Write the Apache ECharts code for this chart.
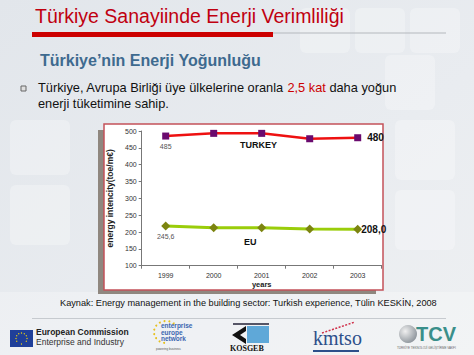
<!DOCTYPE html>
<html><head><meta charset="utf-8">
<script src="https://cdn.jsdelivr.net/npm/echarts@6/dist/echarts.min.js"></script>
<style>html,body{margin:0;padding:0;width:474px;height:355px;overflow:hidden;background:#e6eaee}#c{width:474px;height:355px}</style>
</head><body><div id="c"></div>
<script>
const years = ['1999','2000','2001','2002','2003'];
const turkey = [485, 493, 493, 477, 480];
const eu = [218, 213, 213, 209, 208];
const turkeyLabels = ['485', '', '', '', '480'];
const euLabels = ['245,6', '', '', '', '208,0'];
const yTicks = {min: 100, max: 500, interval: 50};

const F = 'Arial, "Liberation Sans", sans-serif';
function items(vals, labels, firstStyle, lastStyle){
  return vals.map((v,i)=>{
    const o = {value: v};
    if (labels[i]) {
      o.label = Object.assign({show:true, formatter: labels[i]}, i===0 ? firstStyle : lastStyle);
    }
    return o;
  });
}
const firstLab = {position:'bottom', distance:3, fontSize:7, color:'#555', fontFamily:F};
const lastLabT = {position:'right', distance:6, fontSize:10, fontWeight:'bold', color:'#111', fontFamily:F};
const lastLabE = {position:'right', distance:6, offset:[-7,0], fontSize:10, fontWeight:'bold', color:'#111', fontFamily:F};

const chart = echarts.init(document.getElementById('c'), null, {renderer:'svg'});
const g = [];
// background
g.push({type:'rect', z:-20, shape:{x:0,y:0,width:474,height:355}, style:{fill:{type:'linear',x:0,y:0,x2:1,y2:1,colorStops:[{offset:0,color:'#e2e6eb'},{offset:0.6,color:'#e9ecf0'},{offset:1,color:'#eef0f2'}]}}});
[[300,8,50,45],[355,8,50,45],[410,8,50,45],[385,55,50,55],[395,120,60,60],[395,190,60,60],[10,120,60,55],[10,185,60,60]].forEach(r=>{
  g.push({type:'rect', z:-19, shape:{x:r[0],y:r[1],width:r[2],height:r[3],r:6}, style:{fill:'rgba(255,255,255,0.28)'}});
});
g.push({type:'rect', z:-19, shape:{x:0,y:292,width:474,height:63}, style:{fill:'rgba(255,255,255,0.25)'}});
// title
g.push({type:'text', left:35, top:6, style:{text:'Türkiye Sanayiinde Enerji Verimliliği', font:'19.5px '+F, fill:'#c00010'}});
g.push({type:'rect', shape:{x:32,y:32,width:241,height:5}, style:{fill:'#cc0000'}});
g.push({type:'line', shape:{x1:273,y1:33,x2:446,y2:33}, style:{stroke:'#b4b8bd', lineWidth:1}});
g.push({type:'text', left:40, top:52, style:{text:'Türkiye’nin Enerji Yoğunluğu', font:'bold 16px '+F, fill:'#3e6a8f'}});
g.push({type:'rect', shape:{x:21,y:86,width:5,height:5}, style:{fill:'#e0e0e0', stroke:'#666', lineWidth:1}});
g.push({type:'text', left:38, top:80, style:{text:'{a|Türkiye, Avrupa Birliği üye ülkelerine oranla }{r|2,5 kat}{a| daha yoğun}\n{a|enerji tüketimine sahip.}', lineHeight:15.5,
  rich:{a:{font:'12.8px '+F, fill:'#111', lineHeight:15.5}, r:{font:'12.8px '+F, fill:'#cc0000', lineHeight:15.5}}}});
// frame
g.push({type:'rect', z:-5, shape:{x:98,y:130,width:278,height:164}, style:{fill:'#8f877f'}});
g.push({type:'rect', z:-4, shape:{x:104,y:124,width:279,height:166}, style:{fill:'#ffffff', stroke:'#c4525a', lineWidth:1.5}});
g.push({type:'text', left:240, top:140, z:10, style:{text:'TURKEY', font:'bold 9px '+F, fill:'#111'}});
g.push({type:'text', left:244, top:237, z:10, style:{text:'EU', font:'bold 9px '+F, fill:'#111'}});
// caption
g.push({type:'text', left:60, top:298, style:{text:'Kaynak: Energy management in the building sector: Turkish experience, Tülin KESKİN, 2008', font:'9.2px '+F, fill:'#111'}});
g.push({type:'line', shape:{x1:32,y1:318.5,x2:446,y2:318.5}, style:{stroke:'#c6cacf', lineWidth:1}});
// footer logos
g.push({type:'rect', shape:{x:10,y:330,width:23,height:17}, style:{fill:'#1f3f99'}});
for (let k=0;k<12;k++){ const a=k*Math.PI/6; g.push({type:'circle', shape:{cx:21.5+5.5*Math.cos(a), cy:338.5+5.5*Math.sin(a), r:0.6}, style:{fill:'#ffdd00'}}); }
g.push({type:'text', left:36, top:327, style:{text:'European Commission', font:'bold 8.5px '+F, fill:'#222'}});
g.push({type:'text', left:36, top:337, style:{text:'Enterprise and Industry', font:'8.5px '+F, fill:'#333'}});
for (let k=0;k<10;k++){ const a=Math.PI*0.55+k*Math.PI*0.13; g.push({type:'circle', shape:{cx:166+12*Math.cos(a), cy:332+11*Math.sin(a), r:1}, style:{fill:'#e6c020'}}); }
g.push({type:'text', left:161, top:322, style:{text:'enterprise\neurope\nnetwork', font:'bold 6.5px '+F, fill:'#3b66b0', lineHeight:6.5}});
g.push({type:'text', left:156, top:347, style:{text:'powering business', font:'3px '+F, fill:'#555'}});
g.push({type:'rect', shape:{x:233,y:323,width:36,height:2}, style:{fill:'#556'}});
g.push({type:'polygon', shape:{points:[[246,326],[232,335],[246,344],[246,339],[240,335],[246,331]]}, style:{fill:'#111'}});
g.push({type:'rect', shape:{x:247,y:326,width:22,height:17}, style:{fill:'#5fa8d8'}});
g.push({type:'text', left:230, top:344, style:{text:'KOSGEB', font:'bold 8px "Liberation Serif", serif', fill:'#111'}});
g.push({type:'line', shape:{x1:322,y1:333,x2:355,y2:322}, style:{stroke:'#d0304a', lineWidth:1.5, lineDash:[2,1.5]}});
g.push({type:'text', left:313, top:328, style:{text:'kmtso', font:'20px "Liberation Serif", serif', fill:'#2d4f8a'}});
g.push({type:'rect', shape:{x:313,y:350,width:46,height:2}, style:{fill:'#2d4f8a'}});
g.push({type:'circle', shape:{cx:408,cy:334,r:9}, style:{fill:{type:'radial',x:0.35,y:0.35,r:0.8,colorStops:[{offset:0,color:'#f0f0f0'},{offset:1,color:'#808890'}]}}});
g.push({type:'text', left:416, top:324, style:{text:'TCV', font:'bold 20px '+F, fill:'#3a8f8a'}});
g.push({type:'text', left:397, top:346, style:{text:'TÜRKİYE TEKNOLOJİ GELİŞTİRME VAKFI', font:'3px '+F, fill:'#666'}});

chart.setOption({
  animation:false,
  graphic: g,
  grid:{left:141.7, right:92.3, top:131, bottom:89.3},
  xAxis:{type:'category', data:years, boundaryGap:true,
    name:'years', nameLocation:'middle', nameGap:15, nameTextStyle:{fontSize:7.5, fontWeight:'bold', color:'#222', fontFamily:F},
    axisLine:{lineStyle:{color:'#777', width:1}}, axisTick:{show:true, length:3, lineStyle:{color:'#777'}},
    axisLabel:{fontSize:7, color:'#333', margin:6, fontFamily:F}, splitLine:{show:false}},
  yAxis:{type:'value', min:yTicks.min, max:yTicks.max, interval:yTicks.interval,
    name:'energy intencity(toe/m€)', nameLocation:'middle', nameRotate:90, nameGap:19, nameTextStyle:{fontSize:8.5, fontWeight:'bold', color:'#222', fontFamily:F},
    axisLine:{show:true, lineStyle:{color:'#777', width:1}}, axisTick:{show:true, length:3, lineStyle:{color:'#777'}},
    axisLabel:{fontSize:7, color:'#333', margin:5, fontFamily:F}, splitLine:{show:false}},
  series:[
    {type:'line', name:'TURKEY', data:items(turkey, turkeyLabels, firstLab, lastLabT), symbol:'rect', symbolSize:7,
      lineStyle:{color:'#ee1111', width:2.5}, itemStyle:{color:'#6a0a6e'}},
    {type:'line', name:'EU', data:items(eu, euLabels, firstLab, lastLabE), symbol:'diamond', symbolSize:9,
      lineStyle:{color:'#9acd0a', width:3}, itemStyle:{color:'#7c8410'}}
  ]
});
</script></body></html>
